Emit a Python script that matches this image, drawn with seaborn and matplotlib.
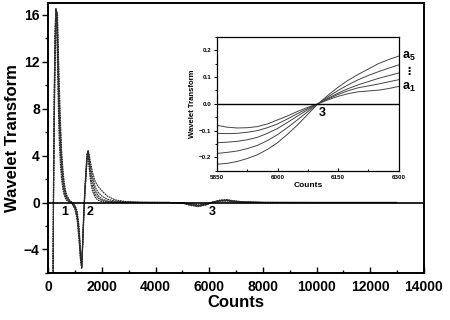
import numpy as np
import pandas as pd
import matplotlib
matplotlib.use("Agg")
import matplotlib.pyplot as plt
from matplotlib.ticker import MultipleLocator
import seaborn as sns

# main panel: wavelet transform at five scales a1..a5
counts = [185, 200, 230, 260, 290, 320, 350, 380, 410, 450, 500, 550, 600, 650, 700,
          800, 900, 1000, 1080, 1150, 1200, 1250, 1290, 1330, 1370, 1410, 1450, 1490,
          1530, 1580, 1650, 1750, 1850, 2000, 2200, 2500, 2900, 3500, 4500, 5000, 5300,
          5600, 5900, 6150, 6400, 6650, 6900, 7300, 8000, 10000, 13000]

wt_a1 = [-6.5, 2.0, 10.0, 15.0, 16.5, 15.0, 11.5, 8.0, 5.5, 3.5, 2.0, 1.1, 0.6, 0.3, 0.15,
         0.02, -0.15, -0.6, -1.5, -3.2, -4.8, -5.6, -3.0, -0.6, 1.3, 2.8, 4.2, 4.0,
         2.9, 1.8, 1.0, 0.45, 0.2, 0.08, 0.03, 0.01, 0.0, 0.0, 0.0, -0.02, -0.12,
         -0.2, -0.12, 0.03, 0.1, 0.12, 0.06, 0.02, 0.0, 0.0, 0.0]
wt_a2 = [-6.5, 1.5, 9.5, 14.5, 16.5, 15.8, 13.0, 9.5, 6.8, 4.5, 2.6, 1.5, 0.85, 0.45, 0.25,
         0.06, -0.1, -0.5, -1.3, -2.9, -4.6, -5.6, -3.2, -0.7, 1.2, 2.7, 4.1, 4.2,
         3.2, 2.2, 1.4, 0.7, 0.4, 0.18, 0.07, 0.02, 0.01, 0.0, 0.0, -0.03, -0.15,
         -0.24, -0.14, 0.04, 0.13, 0.16, 0.09, 0.03, 0.0, 0.0, 0.0]
wt_a3 = [-6.5, 1.0, 8.8, 13.8, 16.2, 16.2, 14.0, 10.8, 8.0, 5.5, 3.3, 1.9, 1.1, 0.65, 0.35,
         0.1, -0.05, -0.4, -1.1, -2.6, -4.3, -5.5, -3.3, -0.9, 1.0, 2.5, 3.9, 4.4,
         3.6, 2.6, 1.8, 1.0, 0.6, 0.3, 0.13, 0.05, 0.02, 0.0, 0.0, -0.04, -0.18,
         -0.28, -0.16, 0.04, 0.15, 0.19, 0.11, 0.04, 0.0, 0.0, 0.0]
wt_a4 = [-6.5, 0.5, 8.0, 13.0, 15.8, 16.3, 15.0, 12.0, 9.2, 6.5, 3.9, 2.4, 1.4, 0.8, 0.45,
         0.15, -0.02, -0.3, -0.9, -2.3, -4.0, -5.5, -3.5, -1.0, 0.9, 2.3, 3.7, 4.4,
         3.9, 3.0, 2.2, 1.35, 0.9, 0.55, 0.28, 0.12, 0.04, 0.01, 0.0, -0.045, -0.21,
         -0.31, -0.18, 0.05, 0.18, 0.22, 0.13, 0.05, 0.01, 0.0, 0.0]
wt_a5 = [-6.5, 0.0, 7.0, 12.0, 15.0, 16.2, 16.0, 13.0, 10.5, 7.5, 4.5, 2.8, 1.7, 1.0, 0.6,
         0.2, 0.0, -0.25, -0.7, -2.0, -3.8, -5.4, -3.6, -1.2, 0.8, 2.2, 3.6, 4.4,
         4.1, 3.4, 2.6, 1.8, 1.4, 1.0, 0.55, 0.22, 0.08, 0.02, 0.0, -0.05, -0.25,
         -0.35, -0.2, 0.05, 0.2, 0.25, 0.15, 0.05, 0.01, 0.0, 0.0]

# inset: zoom around feature 3
counts_in = [5850, 5875, 5900, 5925, 5950, 5975, 6000, 6025, 6050, 6075, 6100,
             6125, 6150, 6175, 6200, 6225, 6250, 6275, 6300]
in_a1 = [-0.080, -0.087, -0.090, -0.089, -0.085, -0.075, -0.060, -0.045, -0.028, -0.013,
         0.000, 0.015, 0.028, 0.038, 0.045, 0.048, 0.051, 0.057, 0.065]
in_a2 = [-0.110, -0.111, -0.110, -0.106, -0.100, -0.089, -0.075, -0.056, -0.036, -0.017,
         0.000, 0.018, 0.035, 0.049, 0.060, 0.067, 0.074, 0.082, 0.090]
in_a3 = [-0.145, -0.143, -0.140, -0.134, -0.125, -0.110, -0.092, -0.069, -0.045, -0.022,
         0.000, 0.021, 0.040, 0.057, 0.071, 0.083, 0.095, 0.105, 0.115]
in_a4 = [-0.185, -0.181, -0.176, -0.167, -0.155, -0.137, -0.115, -0.088, -0.059, -0.029,
         0.000, 0.026, 0.050, 0.071, 0.090, 0.106, 0.120, 0.133, 0.145]
in_a5 = [-0.225, -0.222, -0.215, -0.204, -0.190, -0.170, -0.145, -0.113, -0.078, -0.039,
         0.000, 0.032, 0.062, 0.088, 0.110, 0.130, 0.150, 0.165, 0.178]

sns.set_theme(style="ticks")
plt.rcParams["font.family"] = ["Liberation Sans", "DejaVu Sans"]
plt.rcParams["font.weight"] = "bold"
plt.rcParams["mathtext.fontset"] = "custom"
plt.rcParams["mathtext.bf"] = "Liberation Sans:bold"
plt.rcParams["mathtext.rm"] = "Liberation Sans:bold"
for key in ["text.color", "axes.labelcolor", "xtick.color", "ytick.color",
            "axes.edgecolor"]:
    plt.rcParams[key] = "black"

fig = plt.figure(figsize=(4.5, 3.2), dpi=100)
ax = fig.add_axes([0.107, 0.147, 0.835, 0.844])

for ys in [wt_a1, wt_a2, wt_a3, wt_a4, wt_a5]:
    sns.lineplot(x=counts, y=ys, ax=ax, color="#2a2a2a", lw=0.8,
                 linestyle=(0, (1.6, 0.6)), estimator=None, sort=False)
ax.axhline(0, color="black", lw=1.2, zorder=3)

ax.set_xlim(0, 14000)
ax.set_ylim(-6, 17)
ax.xaxis.set_major_locator(MultipleLocator(2000))
ax.xaxis.set_minor_locator(MultipleLocator(1000))
ax.yaxis.set_major_locator(MultipleLocator(4))
ax.yaxis.set_minor_locator(MultipleLocator(2))
ax.tick_params(axis="x", which="both", direction="in", labelsize=10, pad=5)
ax.tick_params(axis="x", which="major", length=4, width=1)
ax.tick_params(axis="x", which="minor", length=2, width=1)
ax.tick_params(axis="y", which="both", direction="out", labelsize=10, pad=2)
ax.tick_params(axis="y", which="major", length=4, width=1)
ax.tick_params(axis="y", which="minor", length=2, width=1)
for lab in ax.get_xticklabels() + ax.get_yticklabels():
    lab.set_fontweight("bold")
for sp in ax.spines.values():
    sp.set_linewidth(1.4)
    sp.set_color("black")
ax.set_xlabel("Counts", fontsize=12, fontweight="bold", labelpad=1)
ax.set_ylabel("Wavelet Transform", fontsize=12, fontweight="bold", labelpad=3)

for txt, xv in [("1", 614), ("2", 1545), ("3", 6106)]:
    ax.text(xv, -0.85, txt, fontsize=9, fontweight="bold", ha="center", va="center")

# inset
ax_in = fig.add_axes([0.482, 0.466, 0.404, 0.419])
for ys in [in_a1, in_a2, in_a3, in_a4, in_a5]:
    sns.lineplot(x=counts_in, y=ys, ax=ax_in, color="#444444", lw=0.7,
                 estimator=None, sort=False)
ax_in.axhline(0, color="black", lw=1.0, zorder=3)
ax_in.set_xlim(5850, 6300)
ax_in.set_ylim(-0.25, 0.25)
ax_in.set_xticks([5850, 6000, 6150, 6300])
ax_in.xaxis.set_minor_locator(MultipleLocator(75))
ax_in.yaxis.set_major_locator(MultipleLocator(0.1))
ax_in.yaxis.set_minor_locator(MultipleLocator(0.05))
ax_in.tick_params(axis="x", which="both", direction="in", labelsize=4.5, pad=3)
ax_in.tick_params(axis="y", which="both", direction="out", labelsize=4.5, pad=1.5)
ax_in.tick_params(which="major", length=2.5, width=0.7)
ax_in.tick_params(which="minor", length=1.5, width=0.7)
for lab in ax_in.get_xticklabels() + ax_in.get_yticklabels():
    lab.set_fontweight("bold")
for sp in ax_in.spines.values():
    sp.set_linewidth(0.9)
    sp.set_color("black")
ax_in.set_xlabel("Counts", fontsize=6, fontweight="bold", labelpad=1.5)
ax_in.set_ylabel("Wavelet Transform", fontsize=5.5, fontweight="bold", labelpad=2)

ax_in.text(6110, -0.035, "3", fontsize=9, fontweight="bold", ha="center", va="center")
ax_in.text(6308, 0.175, r"$\mathbf{a}_\mathbf{5}$", fontsize=9, ha="left", va="center",
           clip_on=False)
ax_in.text(6312, 0.118, "\u22ee", fontsize=8, ha="left", va="center",
           family=["DejaVu Sans"], fontweight="bold", clip_on=False)
ax_in.text(6308, 0.062, r"$\mathbf{a}_\mathbf{1}$", fontsize=9, ha="left", va="center",
           clip_on=False)

fig.savefig("out.png", dpi=100)
